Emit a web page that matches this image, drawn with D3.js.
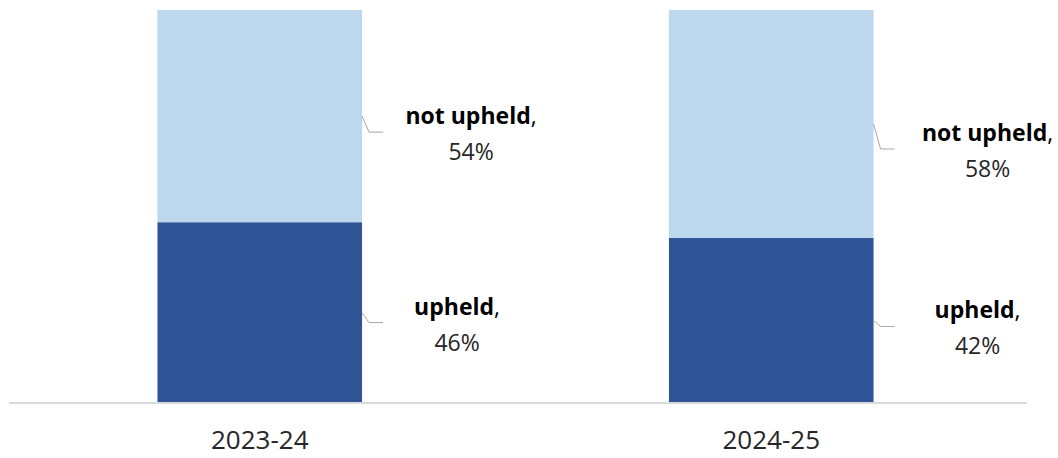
<!DOCTYPE html>
<html>
<head>
<meta charset="utf-8">
<script src="https://cdn.jsdelivr.net/npm/d3@7"></script>
<style>
    body { margin: 0; background: #fff; }
    svg { display: block; font-family: "Open Sans", sans-serif; }
</style>
</head>
<body>
<svg id="chart" width="1058" height="458"></svg>
<script>
const years = ["2023-24", "2024-25"];
const seriesNames = ["upheld", "not upheld"];
const upheld = [46, 42];
const notUpheld = [54, 58];

// label nudges per [year][series]: x from bar edge, y from segment middle
const labelNudge = [
    [{ x: 95, y: 10 }, { x: 109, y: 16 }],
    [{ x: 104, y: 6 }, { x: 114, y: 25 }]
];

const colours = { "upheld": "#2F5597", "not upheld": "#BDD7EE" };

const svg = d3.select("#chart");

const margin = { top: 10, left: 4, right: 31, bottom: 55 };
const width = 1058 - margin.left - margin.right;
const height = 458 - margin.top - margin.bottom;

const chartArea = svg.append("g")
    .attr("transform", `translate(${margin.left},${margin.top})`);

const rows = years.map((y, i) => ({ year: y, "upheld": upheld[i], "not upheld": notUpheld[i] }));
const stacked = d3.stack().keys(seriesNames)(rows);

const xScale = d3.scaleBand()
    .domain(years)
    .range([0, width])
    .paddingInner(0.6)
    .paddingOuter(0.3);

const yScale = d3.scaleLinear()
    .domain([0, 100])
    .range([height, 0]);

stacked.forEach((layer, si) => {
    chartArea.selectAll(".seg-" + si)
        .data(layer)
        .join("rect")
        .attr("class", "seg-" + si)
        .attr("x", d => xScale(d.data.year))
        .attr("y", d => yScale(d[1]))
        .attr("width", xScale.bandwidth())
        .attr("height", d => yScale(d[0]) - yScale(d[1]))
        .attr("fill", colours[layer.key]);
});

// axis
const xAxisG = chartArea.append("g")
    .attr("transform", `translate(0, ${height})`)
    .call(d3.axisBottom(xScale).tickSize(0).tickPadding(28));
xAxisG.select(".domain")
    .attr("stroke", "#d9d9d9")
    .attr("stroke-width", 2)
    .attr("d", `M5,0H${width}`);
xAxisG.selectAll(".tick text")
    .attr("font-size", 26)
    .attr("fill", "#262626")
    .attr("font-family", "'Open Sans', sans-serif");

// data labels with leader lines
stacked.forEach((layer, si) => {
    layer.forEach((d, yi) => {
        const edge = xScale(d.data.year) + xScale.bandwidth();
        const mid = (yScale(d[0]) + yScale(d[1])) / 2;
        const nudge = labelNudge[yi][si];
        const elbow = mid + nudge.y;

        chartArea.append("path")
            .attr("d", `M${edge},${mid}L${edge + 7},${elbow}H${edge + 21}`)
            .attr("fill", "none")
            .attr("stroke", "#a6a6a6")
            .attr("stroke-width", 1);

        const label = chartArea.append("text")
            .attr("x", edge + nudge.x)
            .attr("y", elbow - 8)
            .attr("text-anchor", "middle")
            .attr("font-size", 23)
            .attr("fill", "#000");
        label.append("tspan")
            .attr("font-weight", "bold")
            .text(layer.key);
        label.append("tspan").text(",");

        chartArea.append("text")
            .attr("x", edge + nudge.x)
            .attr("y", elbow + 28)
            .attr("text-anchor", "middle")
            .attr("font-size", 23)
            .attr("fill", "#262626")
            .text(d.data[layer.key] + "%");
    });
});
</script>
</body>
</html>
